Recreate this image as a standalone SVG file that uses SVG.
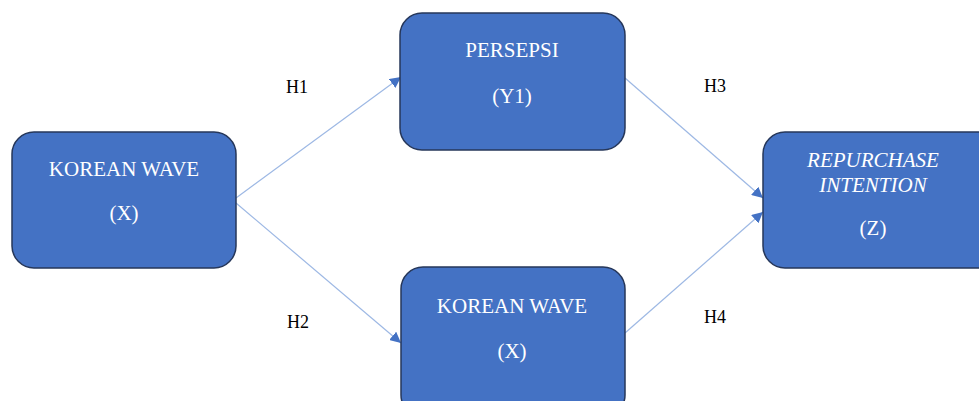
<svg xmlns="http://www.w3.org/2000/svg" width="979" height="401" viewBox="0 0 979 401">
<defs>
<marker id="ah" viewBox="0 0 10 10" refX="10" refY="5" markerWidth="11" markerHeight="11" markerUnits="userSpaceOnUse" orient="auto">
<path d="M0,0 L10,5 L0,10 z" fill="#4472c4"/>
</marker>
<style>
.box{fill:#4472c4;stroke:#26375a;stroke-width:1.5}
text{font-family:'Liberation Serif','Times New Roman',serif}
.t{font-size:21px;fill:#ffffff;text-anchor:middle}
.i{font-style:italic}
.lbl{font-size:18px;fill:#000000;text-anchor:middle}
.c{stroke:#9db8e4;stroke-width:1.2;fill:none;marker-end:url(#ah)}
</style>
</defs>
<rect width="979" height="401" fill="#ffffff"/>
<g id="connectors">
<line class="c" x1="236" y1="198" x2="401" y2="77"/>
<line class="c" x1="236" y1="203" x2="401" y2="343"/>
<line class="c" x1="625" y1="78" x2="763" y2="198"/>
<line class="c" x1="625" y1="333" x2="763" y2="212"/>
</g>
<g id="labels">
<text class="lbl" x="297" y="93">H1</text>
<text class="lbl" x="298" y="328">H2</text>
<text class="lbl" x="715" y="92">H3</text>
<text class="lbl" x="715" y="323">H4</text>
</g>
<g id="node-x">
<rect class="box" x="12" y="132" width="224" height="136" rx="22"/>
<text class="t" x="124" y="176">KOREAN WAVE</text>
<text class="t" x="124" y="220">(X)</text>
</g>
<g id="node-y1">
<rect class="box" x="400" y="13" width="225" height="137" rx="22"/>
<text class="t" x="512" y="57">PERSEPSI</text>
<text class="t" x="512" y="103">(Y1)</text>
</g>
<g id="node-x2">
<rect class="box" x="401" y="267" width="224" height="150" rx="22"/>
<text class="t" x="512" y="313">KOREAN WAVE</text>
<text class="t" x="512" y="358">(X)</text>
</g>
<g id="node-z">
<rect class="box" x="763" y="132" width="240" height="136" rx="22"/>
<text class="t i" x="873" y="167">REPURCHASE</text>
<text class="t i" x="873" y="192">INTENTION</text>
<text class="t" x="873" y="235">(Z)</text>
</g>
</svg>
